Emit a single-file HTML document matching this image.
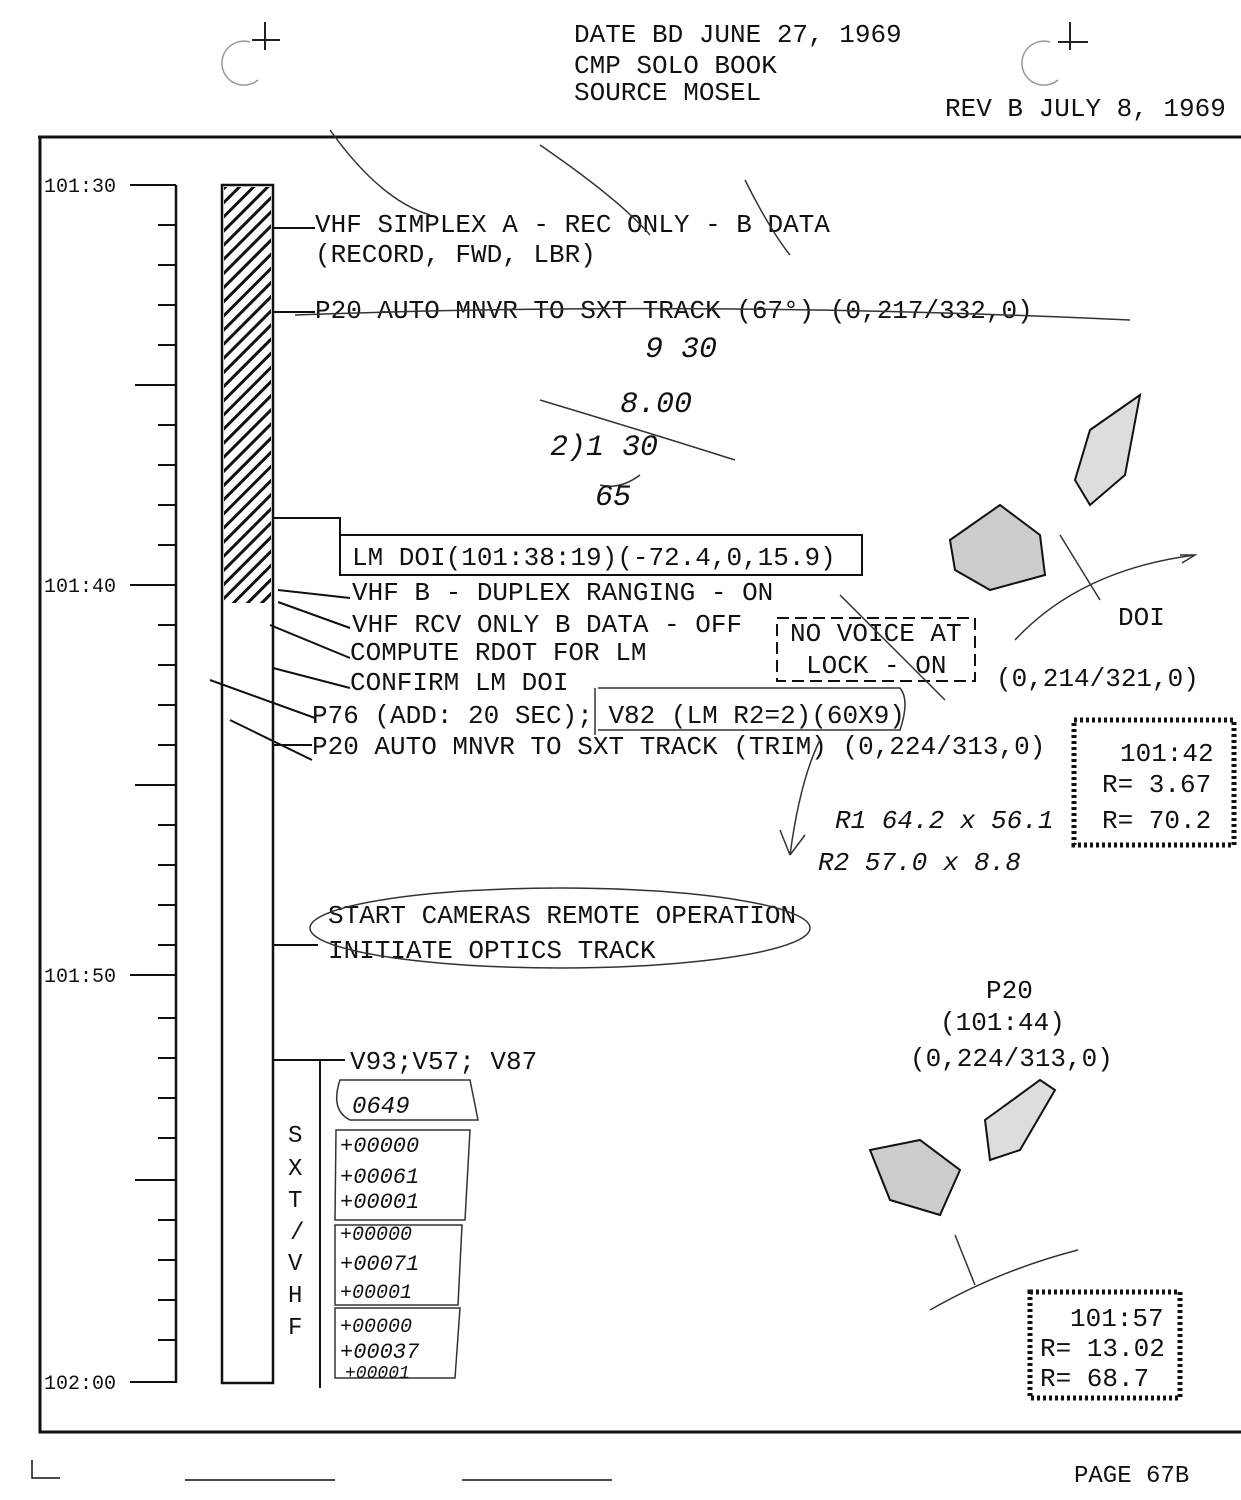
<!DOCTYPE html>
<html><head><meta charset="utf-8"><style>
html,body{margin:0;padding:0;background:#fff}
svg{display:block}
text{font-family:"Liberation Mono",monospace;fill:#111}
.h{font-family:"Liberation Sans",sans-serif;font-style:italic;fill:#333}
</style></head><body>
<svg width="1241" height="1500" viewBox="0 0 1241 1500" xmlns="http://www.w3.org/2000/svg">
<defs>
<pattern id="hat" width="10" height="10" patternUnits="userSpaceOnUse" patternTransform="rotate(45)">
<rect width="10" height="10" fill="#fff"/><rect x="0" y="0" width="3" height="10" fill="#111"/>
</pattern>
</defs>
<g font-size="26">
<text x="574" y="42">DATE  BD  JUNE 27, 1969</text>
<text x="574" y="73">CMP SOLO BOOK</text>
<text x="574" y="100">SOURCE MOSEL</text>
<text x="945" y="116">REV B JULY 8, 1969</text>
</g>
<path d="M250 42 a22 22 0 1 0 8 38" fill="none" stroke="#999" stroke-width="1.5"/>
<path d="M265 22 v28 M252 40 h28" stroke="#222" stroke-width="2"/>
<path d="M1050 42 a22 22 0 1 0 8 38" fill="none" stroke="#999" stroke-width="1.5"/>
<path d="M1070 22 v28 M1058 42 h30" stroke="#222" stroke-width="2"/>
<path d="M38 137 H1241 M40 137 V1432 H1241" stroke="#111" stroke-width="3" fill="none"/>
<line x1="176" y1="185" x2="176" y2="1383" stroke="#111" stroke-width="2.5"/>
<g stroke="#111" stroke-width="2">
<line x1="130" y1="185" x2="176" y2="185"/><line x1="130" y1="585" x2="176" y2="585"/>
<line x1="130" y1="975" x2="176" y2="975"/><line x1="130" y1="1382" x2="176" y2="1382"/>
<line x1="135" y1="385" x2="176" y2="385"/><line x1="135" y1="785" x2="176" y2="785"/><line x1="135" y1="1180" x2="176" y2="1180"/>
<path d="M158 225h18M158 265h18M158 305h18M158 345h18M158 425h18M158 465h18M158 505h18M158 545h18M158 625h18M158 665h18M158 705h18M158 745h18M158 825h18M158 865h18M158 905h18M158 945h18M158 1018h18M158 1058h18M158 1098h18M158 1138h18M158 1220h18M158 1260h18M158 1300h18M158 1340h18"/>
</g>
<g font-size="20">
<text x="44" y="192">101:30</text><text x="44" y="592">101:40</text>
<text x="44" y="982">101:50</text><text x="44" y="1389">102:00</text>
</g>
<rect x="222" y="185" width="51" height="1198" fill="#fff" stroke="#111" stroke-width="2.5"/>
<rect x="224" y="187" width="47" height="416" fill="url(#hat)"/>
<g stroke="#111" stroke-width="2" fill="none">
<path d="M273 228 H315"/><path d="M273 312 H315"/>
<path d="M273 518 H340 V575"/><rect x="340" y="535" width="522" height="40"/>
<path d="M278 590 L350 598"/><path d="M278 602 L350 628"/><path d="M270 625 L350 658"/><path d="M273 668 L350 688"/>
<path d="M210 680 L315 718"/><path d="M230 720 L312 760"/><path d="M273 745 H312"/>
<path d="M273 945 H318"/><path d="M273 1060 H345"/>
<path d="M320 1060 V1388"/>
</g>
<g font-size="26">
<text x="315" y="232">VHF SIMPLEX A - REC ONLY - B DATA</text>
<text x="315" y="262">(RECORD, FWD, LBR)</text>
<text x="315" y="318">P20 AUTO MNVR TO SXT TRACK (67°) (0,217/332,0)</text>
<text x="352" y="565">LM DOI(101:38:19)(-72.4,0,15.9)</text>
<text x="352" y="600">VHF  B - DUPLEX RANGING - ON</text>
<text x="352" y="632">VHF RCV  ONLY B DATA - OFF</text>
<text x="350" y="660">COMPUTE  RDOT FOR LM</text>
<text x="350" y="690">CONFIRM LM DOI</text>
<text x="312" y="723">P76 (ADD: 20 SEC); V82 (LM R2=2)(60X9)</text>
<text x="312" y="754">P20 AUTO MNVR TO SXT TRACK (TRIM) (0,224/313,0)</text>
<text x="790" y="641">NO VOICE AT</text>
<text x="806" y="673">LOCK - ON</text>
<text x="996" y="686">(0,214/321,0)</text>
<text x="1118" y="625">DOI</text>
<text x="328" y="923">START CAMERAS REMOTE OPERATION</text>
<text x="328" y="958">INITIATE OPTICS TRACK</text>
<text x="350" y="1069">V93;V57; V87</text>
<text x="986" y="998">P20</text>
<text x="940" y="1030">(101:44)</text>
<text x="910" y="1066">(0,224/313,0)</text>
<text x="1120" y="761">101:42</text>
<text x="1102" y="792">R= 3.67</text>
<text x="1102" y="828">R= 70.2</text>
<text x="1070" y="1326">101:57</text>
<text x="1040" y="1356">R= 13.02</text>
<text x="1040" y="1386">R= 68.7</text>
<text x="1074" y="1482" font-size="24">PAGE 67B</text>
</g>
<g font-size="24" font-family="Liberation Sans">
<text x="288" y="1142">S</text><text x="288" y="1175">X</text><text x="288" y="1207">T</text><text x="290" y="1239">/</text>
<text x="288" y="1270">V</text><text x="288" y="1302">H</text><text x="288" y="1334">F</text>
</g>
<rect x="777" y="618" width="198" height="63" fill="none" stroke="#111" stroke-width="2" stroke-dasharray="12 6"/>
<rect x="1074" y="720" width="160" height="125" fill="none" stroke="#111" stroke-width="5" stroke-dasharray="3 3"/>
<rect x="1030" y="1292" width="150" height="106" fill="none" stroke="#111" stroke-width="5" stroke-dasharray="3 3"/>
<g fill="none" stroke="#333" stroke-width="1.5">
<path d="M330 130 Q380 200 430 215 M540 145 Q620 200 650 235 M745 180 Q770 230 790 255 M295 315 Q700 300 1130 320"/>
<path d="M540 400 Q640 430 735 460 M600 485 Q620 490 640 475"/>
<path d="M595 688 V735 M598 688 H900 Q910 700 900 730 H598"/>
<path d="M820 740 Q800 780 790 855 M790 855 L780 830 M790 855 L805 835"/>
<ellipse cx="560" cy="928" rx="250" ry="40"/>
<path d="M840 595 L945 700 M1060 535 L1100 600 M1015 640 Q1080 570 1195 555"/>
<path d="M1180 555 L1195 555 L1182 563"/>
<path d="M340 1080 Q330 1110 350 1120 H478 L470 1080 Z"/>
<path d="M336 1130 H470 L465 1220 H335 Z M335 1225 H462 L458 1305 H335 Z M335 1308 H460 L455 1378 H335 Z"/>
<path d="M930 1310 Q1000 1270 1078 1250 M955 1235 L975 1285"/>
</g>
<g class="h" font-size="30">
<text x="645" y="357">9 30</text><text x="620" y="412">8.00</text><text x="550" y="455">2)1 30</text><text x="595" y="505">65</text>
<text x="835" y="828" font-size="26">R1 64.2 x 56.1</text><text x="818" y="870" font-size="26">R2 57.0 x 8.8</text>
<text x="352" y="1113" font-size="24">0649</text>
<text x="340" y="1152" font-size="22">+00000</text><text x="340" y="1183" font-size="22">+00061</text><text x="340" y="1208" font-size="22">+00001</text>
<text x="340" y="1240" font-size="20">+00000</text><text x="340" y="1270" font-size="22">+00071</text><text x="340" y="1298" font-size="20">+00001</text>
<text x="340" y="1332" font-size="20">+00000</text><text x="340" y="1358" font-size="22">+00037</text><text x="345" y="1378" font-size="18">+00001</text>
</g>
<g fill="none" stroke="#111" stroke-width="2">
<path d="M1090 430 L1140 395 L1125 475 L1090 505 L1075 480 Z" fill="#ddd"/>
<path d="M950 540 L1000 505 L1040 535 L1045 575 L990 590 L955 570 Z" fill="#ccc"/>
<path d="M870 1150 L920 1140 L960 1170 L940 1215 L890 1200 Z" fill="#ccc"/>
<path d="M985 1120 L1040 1080 L1055 1090 L1020 1150 L990 1160 Z" fill="#ddd"/>
</g>
<path d="M32 1460 V1478 H60 M185 1480 H335 M462 1480 H612" stroke="#111" stroke-width="1.5" fill="none"/>
</svg>
</body></html>
